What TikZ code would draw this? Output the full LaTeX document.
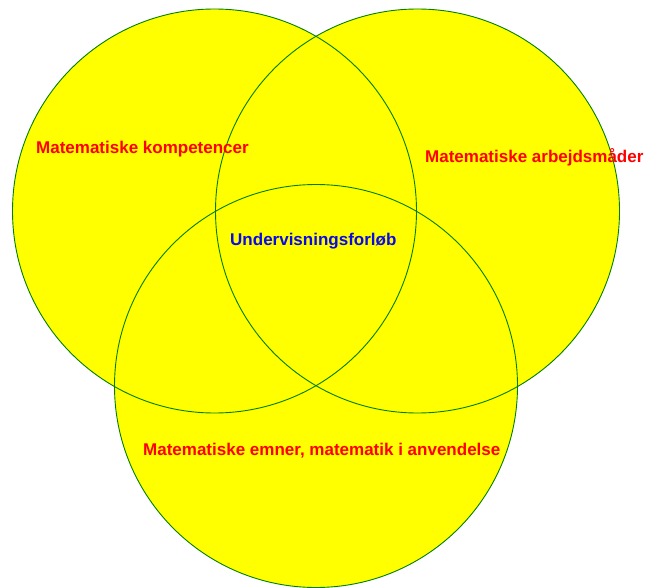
\documentclass[tikz,border=0pt]{standalone}
\usepackage{fontspec}
\setmainfont{Liberation Sans}
\begin{document}
\begin{tikzpicture}[x=1pt,y=-1pt,
  setfill/.style={fill={rgb,255:red,255;green,255;blue,0}},
  setline/.style={draw={rgb,255:red,0;green,128;blue,0},line width=0.9pt},
  lbl/.style={anchor=base west,inner sep=0pt,font=\fontsize{17}{20}\selectfont\bfseries},
  redlbl/.style={lbl,text={rgb,255:red,255;green,0;blue,0}},
  bluelbl/.style={lbl,text={rgb,255:red,10;green,10;blue,230}}]
\useasboundingbox (0,0) rectangle (650,588);
\coordinate (cL) at (214.5,211);
\coordinate (cR) at (417.5,211);
\coordinate (cB) at (316,386);
\fill[setfill] (cL) circle[radius=202];
\fill[setfill] (cR) circle[radius=202];
\fill[setfill] (cB) circle[radius=201.5];
\draw[setline] (cL) circle[radius=202];
\draw[setline] (cR) circle[radius=202];
\draw[setline] (cB) circle[radius=201.5];
\node[redlbl] (komp) at (36,154) {Matematiske kompetencer};
\node[redlbl] (arb) at (425,163) {Matematiske arbejdsmåder};
\node[bluelbl] (und) at (230,245) {Undervisningsforløb};
\node[redlbl] (emn) at (143,455) {Matematiske emner, matematik i anvendelse};
\end{tikzpicture}
\end{document}
